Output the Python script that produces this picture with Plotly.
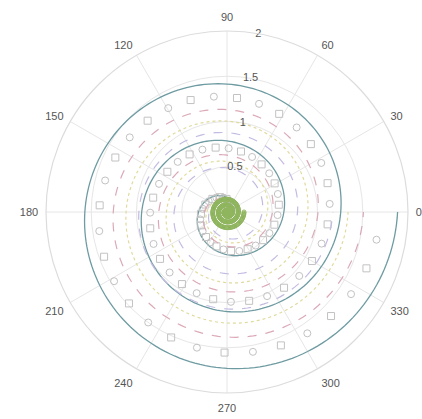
import numpy as np
import plotly.graph_objects as go

# Archimedean spirals r = growth * theta, all running three turns (0 .. 6*pi)
spiral_names = ["solid", "markers", "pink dashed", "yellow dotted", "lavender dashed", "green core"]
spiral_growth = [0.100, 0.090, 0.080, 0.071, 0.062, 0.010]
spiral_turns = [3, 3, 3, 3, 3, 3]
spiral_colors = ["#6d9ba1", "#c2c2c2", "#dba9b6", "#e0da9c", "#c4bbe2", "#5f8f3c"]
spiral_dash = ["solid", None, "dash", "dot", "dash", "dot"]
spiral_step_deg = [2, 11.5, 2, 2, 2, 4]

angle_ticks = [0, 30, 60, 90, 120, 150, 180, 210, 240, 270, 300, 330]
radial_ticks = [0.5, 1, 1.5, 2]
radial_label_angle = 80

fig = go.Figure()

for name, k, turns, color, dash, step in zip(spiral_names, spiral_growth, spiral_turns,
                                              spiral_colors, spiral_dash, spiral_step_deg):
    theta_deg = np.arange(0, 360 * turns + 1e-9, step)
    r = k * np.deg2rad(theta_deg)
    if dash is None:
        symbols = ["square-open" if i % 2 == 0 else "circle-open" for i in range(len(theta_deg))]
        fig.add_trace(go.Scatterpolar(
            r=r, theta=theta_deg, mode="markers", name=name,
            marker=dict(symbol=symbols, size=7, color=color, line=dict(width=1, color=color)),
        ))
    elif name == "green core":
        fig.add_trace(go.Scatterpolar(
            r=r, theta=theta_deg, mode="lines+markers", name=name,
            line=dict(color=color, width=1.5, dash=dash),
            marker=dict(symbol="circle-open", size=4, color="#8fb55e"),
        ))
    else:
        fig.add_trace(go.Scatterpolar(
            r=r, theta=theta_deg, mode="lines", name=name,
            line=dict(color=color, width=1.3 if dash == "solid" else 1.2, dash=dash),
        ))

# radial tick labels along a ray just right of 90 degrees
fig.add_trace(go.Scatterpolar(
    r=radial_ticks, theta=[radial_label_angle] * len(radial_ticks), mode="text",
    text=[("%g" % v) for v in radial_ticks], textfont=dict(size=11, color="#555555"),
    showlegend=False,
))

fig.update_layout(
    width=422, height=419,
    margin=dict(l=46, r=14, t=30, b=25),
    paper_bgcolor="white",
    showlegend=False,
    font=dict(family="Liberation Sans, Arial, sans-serif", size=11, color="#666666"),
    polar=dict(
        bgcolor="white",
        domain=dict(x=[0, 1], y=[0, 1]),
        radialaxis=dict(range=[0, 2], tickvals=radial_ticks, showticklabels=False,
                        ticks="", showline=False, gridcolor="#e6e6e6", gridwidth=1),
        angularaxis=dict(rotation=0, direction="counterclockwise",
                         tickvals=angle_ticks, ticktext=[str(a) for a in angle_ticks],
                         ticks="outside", ticklen=5, tickcolor="rgba(0,0,0,0)",
                         showline=True, linecolor="#dcdcdc", linewidth=1.2,
                         gridcolor="#e6e6e6", gridwidth=1,
                         tickfont=dict(size=11, color="#555555")),
    ),
)

fig.write_html("out.html")
